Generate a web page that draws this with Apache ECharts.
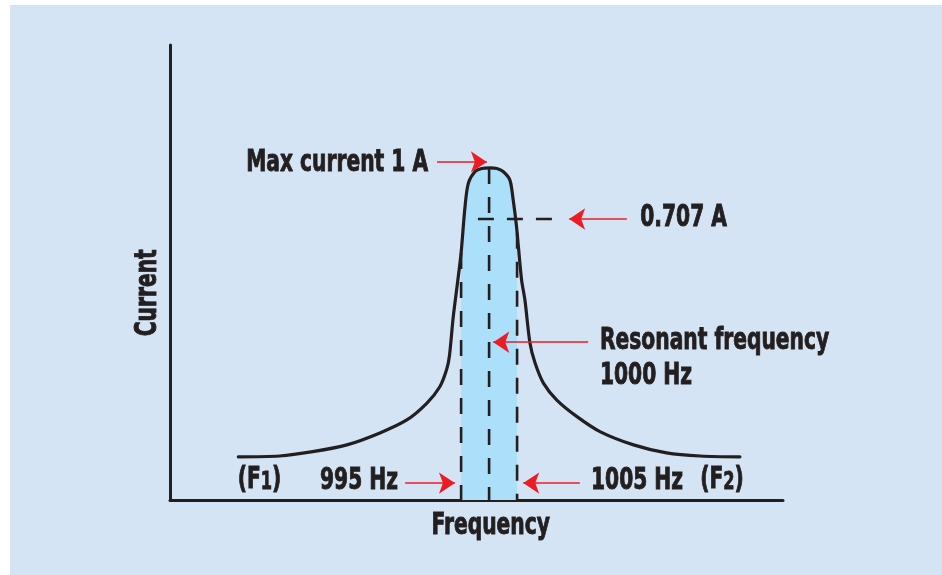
<!DOCTYPE html>
<html>
<head>
<meta charset="utf-8">
<script src="https://cdn.jsdelivr.net/npm/echarts@6/dist/echarts.min.js"></script>
<style>
  html, body { margin: 0; padding: 0; background: #ffffff; width: 942px; height: 575px; overflow: hidden; }
  #chart { position: absolute; left: 10px; top: 5px; width: 932px; height: 570px; }
</style>
</head>
<body>
<div id="chart"></div>
<script>
// ---- data (frequency in Hz, current in A) ----
const curveFreq = [955.2, 962.6, 968.5, 974.6, 980.5, 985.3, 988.9, 991.2, 992.4, 992.9, 993.6, 994.5, 995.0, 995.7, 996.3, 997.5, 998.7, 1000.1, 1001.4, 1002.5, 1003.7, 1004.3, 1004.9, 1005.8, 1006.4, 1007.3, 1008.2, 1009.7, 1012.1, 1015.7, 1019.8, 1025.8, 1031.7, 1037.7, 1044.8];
const curveCurrent = [0.130, 0.1325, 0.1455, 0.166, 0.202, 0.241, 0.292, 0.341, 0.392, 0.432, 0.552, 0.673, 0.744, 0.883, 0.954, 0.989, 0.998, 1.0, 0.998, 0.989, 0.964, 0.904, 0.823, 0.663, 0.602, 0.473, 0.413, 0.352, 0.301, 0.251, 0.206, 0.166, 0.142, 0.1325, 0.130];

const bandFreq = [995.0, 995.7, 996.3, 997.5, 998.7, 1000.1, 1001.4, 1002.5, 1003.7, 1004.3, 1005.0];
const bandCurrent = [0.744, 0.883, 0.954, 0.989, 0.998, 1.0, 0.998, 0.989, 0.964, 0.904, 0.805];

const resonantFreq = 1000;
const lowerFreq = 995;
const upperFreq = 1005;
const peakCurrent = 1.0;
const lowerEdgeCurrent = 0.744;
const upperEdgeCurrent = 0.805;
const levelLineCurrent = 0.846;          // drawn position of the "0.707 A" dashed line
const levelLineFreq = [998.0, 1012.7];

// arrows: start point and tip point [freq, current]
const arrowFrom = [[990.7, 1.018], [1024.6, 0.846], [1017.7, 0.475], [985.0, 0.051], [1016.2, 0.051]];
const arrowTo   = [[999.6, 1.018], [1014.3, 0.846], [1000.75, 0.475], [993.9, 0.051], [1006.1, 0.051]];

// annotation texts and their left-anchor points
const labelTexts = ['Max current 1 A', '0.707 A', 'Resonant frequency', '1000 Hz', '(F{s|1})', '995 Hz', '1005 Hz', '(F{s|2})'];
const labelFreq = [956.6, 1027.0, 1019.8, 1019.8, 955.1, 969.8, 1018.2, 1037.7];
const labelCurrent = [1.015, 0.848, 0.479, 0.372, 0.060, 0.057, 0.057, 0.060];

// axis titles and their centre points
const xAxisName = 'Frequency';
const xAxisNamePoint = [1000.3, -0.078];
const yAxisName = 'Current';
const yAxisNamePoint = [939.1, 0.624];

// ---- chart ----
const FONT_FAMILY = "'DejaVu Sans Condensed', 'DejaVu Sans', sans-serif";
const INK = '#231f20';
const RED = '#ec1c24';
const SQUEEZE = 0.75;

const zip = (a, b) => a.map((v, i) => [v, b[i]]);

const chart = echarts.init(document.getElementById('chart'), null, { renderer: 'canvas' });

const dash = { width: 2.6, color: INK, type: [16, 13] };

chart.setOption({
  animation: false,
  backgroundColor: '#d4e4f4',
  grid: { left: 160, top: 40, right: 159, bottom: 75, containLabel: false },
  xAxis: {
    type: 'value', min: 943, max: 1052.5,
    axisLine: { show: true, lineStyle: { color: INK, width: 3 } },
    axisTick: { show: false }, axisLabel: { show: false }, splitLine: { show: false }
  },
  yAxis: {
    type: 'value', min: 0, max: 1.37,
    axisLine: { show: true, lineStyle: { color: INK, width: 3 } },
    axisTick: { show: false }, axisLabel: { show: false }, splitLine: { show: false }
  },
  series: [
    {
      type: 'line', name: 'band', z: 1,
      data: zip(bandFreq, bandCurrent),
      smooth: 0.3, showSymbol: false, silent: true,
      lineStyle: { width: 0, opacity: 0 },
      areaStyle: { color: '#abdffa', opacity: 1, origin: 'start' }
    },
    {
      type: 'line', z: 2, showSymbol: false, silent: true,
      data: [[resonantFreq, peakCurrent], [resonantFreq, 0]], lineStyle: dash
    },
    {
      type: 'line', z: 2, showSymbol: false, silent: true,
      data: [[lowerFreq, lowerEdgeCurrent], [lowerFreq, 0]], lineStyle: dash
    },
    {
      type: 'line', z: 2, showSymbol: false, silent: true,
      data: [[upperFreq, upperEdgeCurrent], [upperFreq, 0]], lineStyle: dash
    },
    {
      type: 'line', z: 2, showSymbol: false, silent: true,
      data: [[levelLineFreq[0], levelLineCurrent], [levelLineFreq[1], levelLineCurrent]], lineStyle: dash
    },
    {
      type: 'line', name: 'curve', z: 3,
      data: zip(curveFreq, curveCurrent),
      smooth: 0.3, showSymbol: false, silent: true,
      lineStyle: { width: 3.2, color: INK, cap: 'round', join: 'round' }
    },
    {
      type: 'lines', coordinateSystem: 'cartesian2d', z: 4, silent: true,
      symbol: ['none', 'arrow'], symbolSize: [9, 16],
      lineStyle: { color: RED, width: 1.6, opacity: 1, curveness: 0 },
      data: arrowFrom.map((f, i) => ({ coords: [f, arrowTo[i]] }))
    }
  ]
});

// ---- texts, placed at data points through the grid's scales ----
const toPx = (p) => chart.convertToPixel({ gridIndex: 0 }, p);
const baseStyle = (text, align) => ({
  text,
  fill: INK,
  stroke: INK,
  lineWidth: 0.9,
  fontFamily: FONT_FAMILY,
  fontWeight: 'bold',
  fontSize: 30,
  lineHeight: 30,
  align, textAlign: align,
  verticalAlign: 'middle', textVerticalAlign: 'middle',
  rich: {
    s: { fill: INK, stroke: INK, lineWidth: 0.8, fontFamily: FONT_FAMILY, fontWeight: 'bold', fontSize: 24, lineHeight: 16, verticalAlign: 'bottom' }
  }
});

const textElements = labelTexts.map((t, i) => {
  const [x, y] = toPx([labelFreq[i], labelCurrent[i]]);
  return { type: 'text', x, y, scaleX: SQUEEZE, z: 10, silent: true, style: baseStyle(t, 'left') };
});
{
  const [x, y] = toPx(xAxisNamePoint);
  textElements.push({ type: 'text', x, y, scaleX: SQUEEZE, z: 10, silent: true, style: baseStyle(xAxisName, 'center') });
}
{
  const [x, y] = toPx(yAxisNamePoint);
  textElements.push({ type: 'text', x, y, scaleX: SQUEEZE, rotation: Math.PI / 2, z: 10, silent: true, style: baseStyle(yAxisName, 'center') });
}
chart.setOption({ graphic: { elements: textElements } });
</script>
</body>
</html>
